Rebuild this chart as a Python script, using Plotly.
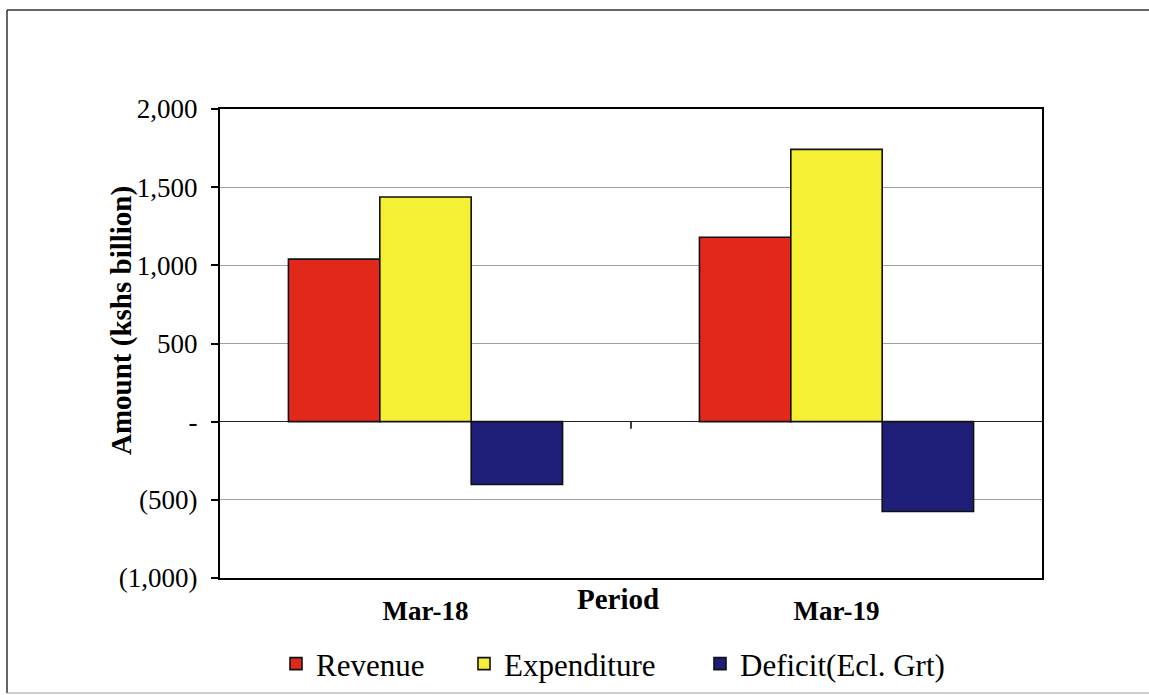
import plotly.graph_objects as go

# Period categories and amounts (Kshs billion)
periods = ["Mar-18", "Mar-19"]
revenue = [1040, 1180]
expenditure = [1437, 1742]
deficit = [-402, -575]

series_names = ["Revenue", "Expenditure", "Deficit(Ecl. Grt)"]
series_colors = ["#E1281A", "#F6F034", "#1E1E78"]

y_tick_vals = [2000, 1500, 1000, 500, 0, -500, -1000]
y_tick_text = ["2,000", "1,500", "1,000", "500", "-", "(500)", "(1,000)"]

FONT = "Liberation Serif, Times New Roman, serif"

# plot area: left 220, right 1042, top 109, bottom 578 (px)
L, R, T, B = 220, 1042, 109, 578
W, H = R - L, B - T


def px_x(p):
    return (p - L) / W


def px_y(p):
    return (B - p) / H


legend_ids = ["legend", "legend2", "legend3"]
legend_left_px = [276, 464, 700]

fig = go.Figure()
for name, vals, color, lg in zip(series_names, [revenue, expenditure, deficit],
                                 series_colors, legend_ids):
    fig.add_trace(go.Bar(
        x=periods, y=vals, name=name, legend=lg,
        marker=dict(color=color, line=dict(color="#111111", width=1.6)),
    ))

legend_style = dict(
    orientation="h", yanchor="middle", y=px_y(664), xanchor="left",
    font=dict(family=FONT, size=31, color="black"),
    bgcolor="rgba(0,0,0,0)", borderwidth=0,
    itemwidth=30,
)
legends = {}
for lg, left in zip(legend_ids, legend_left_px):
    legends[lg] = dict(legend_style, x=px_x(left))

fig.update_layout(
    width=1149, height=695,
    margin=dict(l=L, r=1149 - R, t=T, b=695 - B, autoexpand=False),
    paper_bgcolor="white", plot_bgcolor="white",
    font=dict(family=FONT, color="black", size=27),
    barmode="group", bargap=0.333, bargroupgap=0,
    showlegend=True,
    **legends,
    xaxis=dict(
        showline=True, linecolor="black", linewidth=2, mirror=True,
        ticks="outside", ticklen=8, tickcolor="rgba(0,0,0,0)",
        tickfont=dict(family=FONT, size=27, color="black", weight="bold"),
        showgrid=False, zeroline=False,
    ),
    yaxis=dict(
        range=[-1000, 2000], tickvals=y_tick_vals, ticktext=y_tick_text,
        showline=True, linecolor="black", linewidth=2, mirror=True,
        ticks="outside", ticklen=7, tickcolor="black", tickwidth=1.5,
        ticklabelstandoff=8,
        tickfont=dict(family=FONT, size=27, color="black"),
        showgrid=True, gridcolor="#a0a0a0", gridwidth=1,
        zeroline=True, zerolinecolor="#222222", zerolinewidth=1.4,
    ),
    annotations=[
        dict(text="<b>Amount (kshs billion)</b>", textangle=-90,
             xref="paper", yref="paper", x=px_x(121), y=px_y(321),
             xanchor="center", yanchor="middle", showarrow=False,
             font=dict(family=FONT, size=29, color="black")),
        dict(text="<b>Period</b>",
             xref="paper", yref="paper", x=px_x(618), y=px_y(599),
             xanchor="center", yanchor="middle", showarrow=False,
             font=dict(family=FONT, size=29, color="black")),
    ],
    shapes=[
        # outer chart frame (open on the right)
        dict(type="line", xref="paper", yref="paper",
             x0=px_x(7), x1=px_x(1160), y0=px_y(10), y1=px_y(10),
             line=dict(color="#333333", width=1.5)),
        dict(type="line", xref="paper", yref="paper",
             x0=px_x(7), x1=px_x(7), y0=px_y(10), y1=px_y(693),
             line=dict(color="#333333", width=1.5)),
        dict(type="line", xref="paper", yref="paper",
             x0=px_x(7), x1=px_x(1160), y0=px_y(693), y1=px_y(693),
             line=dict(color="#999999", width=1)),
        # category divider tick on the zero line
        dict(type="line", xref="x", yref="y",
             x0=0.5, x1=0.5, y0=0, y1=-45,
             line=dict(color="black", width=1.5)),
    ],
)

fig.write_html("out.html")
